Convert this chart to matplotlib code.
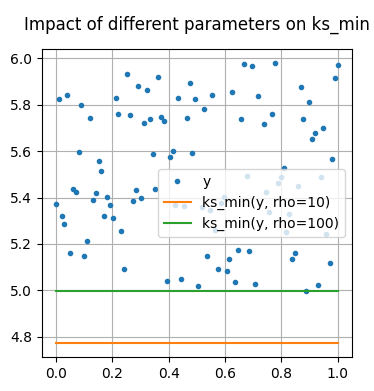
import matplotlib
matplotlib.use("Agg")
import matplotlib.pyplot as plt
import numpy as np

# sample points
x = [0.012, 0.040, 0.090, 0.122, 0.082, 0.154, 0.161, 0.253, 0.214, 0.221,
     0.263, 0.292, 0.324, 0.363, 0.313, 0.334, 0.373, 0.384, 0.345, 0.405,
     0.416, 0.434, 0.476, 0.494, 0.466, 0.483, 0.554, 0.526, 0.668, 0.696,
     0.778, 0.625, 0.717, 0.657, 0.739, 0.767, 0.810, 0.871, 0.898, 0.877,
     0.948, 0.920, 0.909, 0.990, 1.000, 0.980, 0.061, 0.072, 0.000, 0.022,
     0.029, 0.143, 0.132, 0.182, 0.193, 0.171, 0.203, 0.230, 0.111, 0.051,
     0.100, 0.242, 0.285, 0.302, 0.274, 0.352, 0.429, 0.423, 0.455, 0.395,
     0.444, 0.505, 0.678, 0.799, 0.788, 0.859, 0.941, 0.746, 0.597, 0.585,
     0.517, 0.547, 0.756, 0.827, 0.565, 0.817, 0.959, 0.537, 0.615, 0.646,
     0.685, 0.576, 0.607, 0.636, 0.707, 0.838, 0.849, 0.971, 0.888, 0.930]
y = [5.826, 5.844, 5.800, 5.743, 5.596, 5.557, 5.515, 5.934, 5.830, 5.762,
     5.756, 5.882, 5.864, 5.921, 5.722, 5.739, 5.748, 5.730, 5.587, 5.574,
     5.600, 5.830, 5.895, 5.826, 5.743, 5.592, 5.843, 5.782, 5.977, 5.968,
     5.981, 5.856, 5.839, 5.739, 5.717, 5.761, 5.528, 5.877, 5.813, 5.739,
     5.700, 5.678, 5.652, 5.916, 5.973, 5.566, 5.436, 5.423, 5.371, 5.319,
     5.284, 5.419, 5.388, 5.401, 5.367, 5.319, 5.310, 5.254, 5.211, 5.163,
     5.150, 5.094, 5.432, 5.397, 5.384, 5.436, 5.471, 5.367, 5.362, 5.042,
     5.051, 5.020, 5.492, 5.488, 5.462, 5.449, 5.488, 5.423, 5.401, 5.375,
     5.359, 5.345, 5.336, 5.328, 5.261, 5.251, 5.245, 5.146, 5.137, 5.172,
     5.168, 5.090, 5.085, 5.038, 5.029, 5.137, 5.163, 5.120, 4.999, 5.025]

line_x = [0.0, 1.0]
ks_rho10 = 4.773
ks_rho100 = 4.999

fig = plt.figure(figsize=(3.74, 3.91), dpi=100)
ax = fig.add_axes([0.112, 0.087, 0.829, 0.788])

ax.plot(x, y, ".", label="y")
ax.plot(line_x, [ks_rho10] * 2, label="ks_min(y, rho=10)")
ax.plot(line_x, [ks_rho100] * 2, label="ks_min(y, rho=100)")

ax.set_title("Impact of different parameters on ks_min", pad=14)
ax.grid(True)
ax.legend(loc="center right")

fig.savefig("out.png", dpi=100)
